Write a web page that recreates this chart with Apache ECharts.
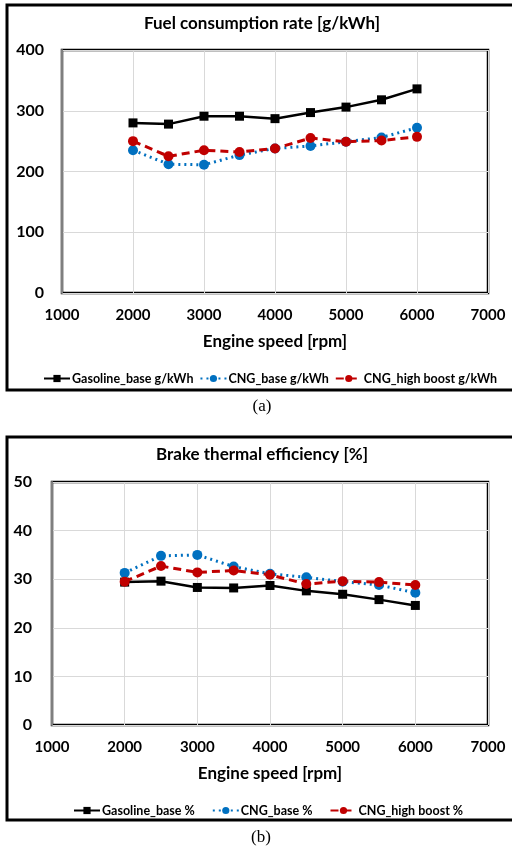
<!DOCTYPE html>
<html>
<head>
<meta charset="utf-8">
<script src="https://cdn.jsdelivr.net/npm/echarts@6/dist/echarts.min.js"></script>
<style>
  html, body { margin: 0; padding: 0; background: #fff; }
  #main { width: 512px; height: 851px; }
</style>
</head>
<body>
<div id="main"></div>
<script>
// engine speed [rpm]
var speeds = [2000, 2500, 3000, 3500, 4000, 4500, 5000, 5500, 6000];

// (a) fuel consumption rate [g/kWh]
var fuelGasoline = [280, 278, 291, 291, 287, 297, 306, 318, 336];
var fuelCngBase = [235, 212, 211, 227, 238, 242, 249, 256, 272];
var fuelCngHigh = [250, 225, 235, 232, 238, 255, 249, 251, 257];

// (b) brake thermal efficiency [%]
var bteGasoline = [29.4, 29.6, 28.3, 28.2, 28.7, 27.6, 26.9, 25.8, 24.6];
var bteCngBase = [31.3, 34.8, 35.0, 32.6, 31.1, 30.4, 29.5, 28.8, 27.2];
var bteCngHigh = [29.5, 32.7, 31.4, 31.8, 30.9, 29.0, 29.6, 29.4, 28.8];

var namesA = ["Gasoline_base g/kWh", "CNG_base g/kWh", "CNG_high boost g/kWh"];
var namesB = ["Gasoline_base %", "CNG_base %", "CNG_high boost %"];

var FONT = "Lato";
var BLACK = "#000000", BLUE = "#0070C0", RED = "#C00000";

function pairs(ys) {
  return speeds.map(function (x, i) { return [x, ys[i]]; });
}

function xAxisFor(gridIndex) {
  return {
    type: "value", gridIndex: gridIndex, min: 1000, max: 7000, interval: 1000,
    name: "Engine speed [rpm]", nameLocation: "middle", nameGap: 40,
    nameTextStyle: { fontFamily: FONT, fontWeight: "bold", fontSize: 17, color: "#000" },
    axisLine: { show: false }, axisTick: { show: false },
    axisLabel: {
      margin: 15, fontFamily: FONT, fontWeight: "bold", fontSize: 15, color: "#000",
      formatter: function (v) { return String(v); }
    },
    splitLine: { show: true, lineStyle: { color: "#d9d9d9", width: 1 } }
  };
}

function yAxisFor(gridIndex, max, interval, margin) {
  return {
    type: "value", gridIndex: gridIndex, min: 0, max: max, interval: interval,
    axisLine: { show: true, lineStyle: { color: "#7f7f7f", width: 2 } },
    axisTick: { show: false },
    axisLabel: { margin: margin, fontFamily: FONT, fontWeight: "bold", fontSize: 16, color: "#000" },
    splitLine: { show: true, lineStyle: { color: "#d9d9d9", width: 1 } }
  };
}

function lineSeries(name, data, idx, color, symbol, type) {
  return {
    name: name, type: "line", xAxisIndex: idx, yAxisIndex: idx,
    data: pairs(data), symbol: symbol, symbolSize: symbol === "rect" ? 9 : 10,
    itemStyle: { color: color },
    lineStyle: { color: color, width: type === "solid" ? 2.5 : 3, type: type },
    z: symbol === "rect" ? 3 : 4
  };
}

var legendText = { fontFamily: FONT, fontWeight: "bold", fontSize: 12.5, color: "#000", padding: [0, 0, 0, -3] };

var chart = echarts.init(document.getElementById("main"));
chart.setOption({
  animation: false,
  backgroundColor: "#fff",
  grid: [
    { left: 62, top: 50, width: 426, height: 243, show: true, borderColor: "#000", borderWidth: 2.5, backgroundColor: "transparent" },
    { left: 52, top: 482, width: 436, height: 243, show: true, borderColor: "#000", borderWidth: 2.5, backgroundColor: "transparent" }
  ],
  xAxis: [xAxisFor(0), xAxisFor(1)],
  yAxis: [yAxisFor(0, 400, 100, 18), yAxisFor(1, 50, 10, 20)],
  legend: [
    {
      data: namesA, left: 38, top: 367, itemWidth: 26, itemHeight: 9, itemGap: 6,
      textStyle: legendText
    },
    {
      data: namesB, left: 68, top: 799, itemWidth: 26, itemHeight: 9, itemGap: 17,
      textStyle: legendText
    }
  ],
  series: [
    lineSeries(namesA[0], fuelGasoline, 0, BLACK, "rect", "solid"),
    lineSeries(namesA[1], fuelCngBase, 0, BLUE, "circle", [2, 4]),
    lineSeries(namesA[2], fuelCngHigh, 0, RED, "circle", [8, 5]),
    lineSeries(namesB[0], bteGasoline, 1, BLACK, "rect", "solid"),
    lineSeries(namesB[1], bteCngBase, 1, BLUE, "circle", [2, 4]),
    lineSeries(namesB[2], bteCngHigh, 1, RED, "circle", [8, 5])
  ],
  graphic: [
    { type: "rect", shape: { x: 7, y: 5, width: 520, height: 385 }, style: { fill: "none", stroke: "#000", lineWidth: 3 } },
    { type: "rect", shape: { x: 7, y: 437, width: 520, height: 383 }, style: { fill: "none", stroke: "#000", lineWidth: 3 } },
    { type: "text", x: 262, y: 24, style: { text: "Fuel consumption rate [g/kWh]", textAlign: "center", textVerticalAlign: "middle", font: "bold 17px Lato", fill: "#000" } },
    { type: "text", x: 262, y: 455, style: { text: "Brake thermal efficiency [%]", textAlign: "center", textVerticalAlign: "middle", font: "bold 17px Lato", fill: "#000" } },
    { type: "text", x: 262, y: 407, style: { text: "(a)", textAlign: "center", textVerticalAlign: "middle", font: "17px 'Liberation Serif'", fill: "#000" } },
    { type: "text", x: 261, y: 838, style: { text: "(b)", textAlign: "center", textVerticalAlign: "middle", font: "17px 'Liberation Serif'", fill: "#000" } }
  ]
});
</script>
</body>
</html>
